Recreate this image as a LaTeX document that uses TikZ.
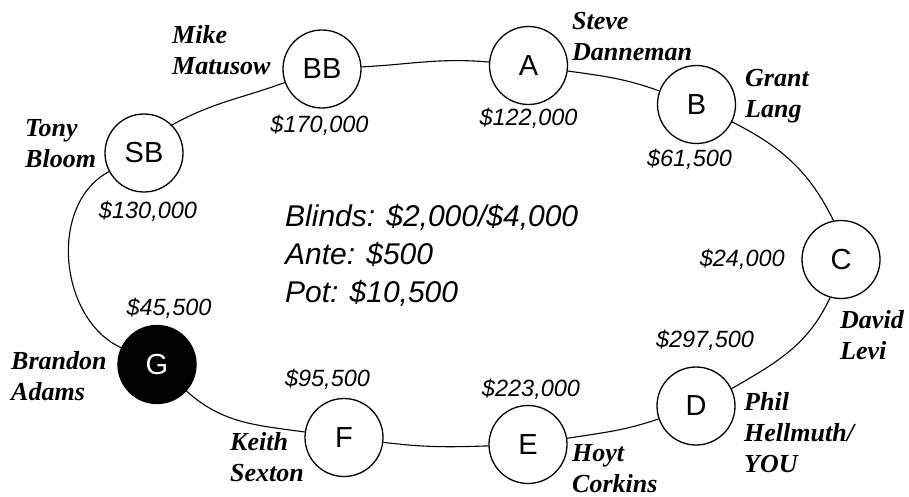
\documentclass[tikz,border=0pt]{standalone}
\usepackage{fontspec}
\setmainfont{Liberation Serif}
\setsansfont{Liberation Sans}
\newcommand\plname[1]{\begin{tabular}[t]{@{}l@{}}#1\end{tabular}}
\tikzset{
  seat/.style={circle, draw, line width=1.3pt, minimum size=78pt, inner sep=0pt, fill=white,
               font=\sffamily\fontsize{29}{29}\selectfont},
  hero/.style={seat, fill=black, text=white},
  stake/.style={anchor=base, inner sep=0pt, font=\sffamily\itshape\fontsize{23.5}{28}\selectfont},
  pname/.style={anchor=base west, inner sep=0pt, font=\rmfamily\bfseries\itshape\fontsize{26}{31}\selectfont},
  info/.style={anchor=base west, inner sep=0pt, font=\sffamily\itshape\fontsize{30}{38}\selectfont},
  link/.style={line width=1.1pt},
}
\begin{document}
\begin{tikzpicture}[x=1pt,y=1pt]
\useasboundingbox (0,0) rectangle (909,-497);
% seats
\node[seat] (SB) at (144,-153) {SB};
\node[seat] (BB) at (322,-69) {BB};
\node[seat] (A) at (528.5,-65.5) {A};
\node[seat] (B) at (696.5,-104.5) {B};
\node[seat] (C) at (841,-259.5) {C};
\node[seat] (D) at (696,-406) {D};
\node[seat] (E) at (528,-444.5) {E};
\node[seat] (F) at (344,-437.5) {F};
\node[hero] (G) at (157,-364.5) {G};
% table outline
\draw[link] (SB.45) to[out=29,in=200] (BB.200);
\draw[link] (BB.3) to[out=3,in=175] (A.175);
\draw[link] (A.-8) to[out=-8,in=160] (B.160);
\draw[link] (B.-26) to[out=-27,in=116] (C.101);
\draw[link] (C.254) to[out=245,in=30] (D.26);
\draw[link] (D.199) to[out=199,in=9] (E.9);
\draw[link] (E.182) to[out=182,in=-7] (F.-7);
\draw[link] (F.172) to[out=172,in=-42] (G.-42);
\draw[link] (G.155) to[out=155,in=208] (SB.208);
% stacks
\node[stake] (sBB) at (319.5,-133) {\$170,000};
\node[stake] (sA) at (528.5,-126) {\$122,000};
\node[stake] (sB) at (689.5,-166.7) {\$61,500};
\node[stake] (sSB) at (148,-218) {\$130,000};
\node[stake, anchor=base east] (sC) at (785,-266) {\$24,000};
\node[stake] (sD) at (705,-347) {\$297,500};
\node[stake] (sE) at (531,-396.7) {\$223,000};
\node[stake] (sF) at (327.5,-386.7) {\$95,500};
\node[stake] (sG) at (169,-315) {\$45,500};
% player names
\node[pname] (nBB) at (172,-44) {\plname{Mike\\Matusow}};
\node[pname] (nSB) at (25,-137) {\plname{Tony\\Bloom}};
\node[pname] (nA) at (572,-30) {\plname{Steve\\Danneman}};
\node[pname] (nB) at (745,-87) {\plname{Grant\\Lang}};
\node[pname] (nC) at (840,-328) {\plname{David\\Levi}};
\node[pname] (nD) at (744,-410) {\plname{Phil\\Hellmuth/\\YOU}};
\node[pname] (nE) at (572,-461) {\plname{Hoyt\\Corkins}};
\node[pname] (nF) at (230,-450) {\plname{Keith\\Sexton}};
\node[pname] (nG) at (11,-369) {\plname{Brandon\\Adams}};
% info
\node[info] (info) at (285,-226.7) {\plname{Blinds: \$2,000/\$4,000\\Ante: \$500\\Pot: \$10,500}};
\end{tikzpicture}
\end{document}
